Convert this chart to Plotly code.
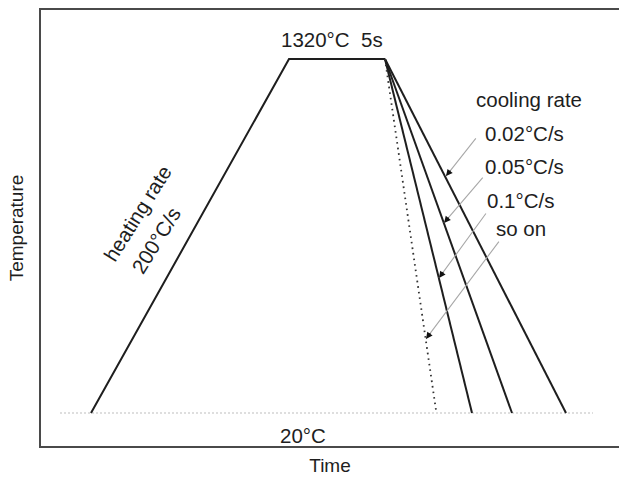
import plotly.graph_objects as go

# ---- data (schematic thermal cycle; time in arbitrary units, temperature in °C) ----
heat_time = [0, 198]
heat_temp = [20, 1320]
hold_time = [198, 294]
hold_temp = [1320, 1320]
cool_end_time = [381, 421, 475]        # solid cooling curves (0.1, 0.05, 0.02 °C/s)
cool_end_temp = [20, 20, 20]
dotted_end_time = 345                  # "so on" (dotted)
dotted_end_temp = 30
base_time = [-31, 502]
base_temp = [20, 20]

rate_labels = ["cooling rate", "0.02°C/s", "0.05°C/s", "0.1°C/s", "so on"]
rate_label_x = [438, 433, 433, 429, 430]
rate_label_y = [1173, 1048, 927, 802, 696]
# arrows: tail -> tip
arrow_tail_x = [386, 393, 396, 409]
arrow_tail_y = [1034, 890, 758, 655]
arrow_tip_x = [355, 353, 348, 335]
arrow_tip_y = [890, 718, 516, 292]

X_RANGE = [-50, 528]
Y_RANGE = [-101.2, 1500]

INK = "#1e1e1e"
FONT = "Liberation Sans, Arial, sans-serif"
TXT = 20.5
AX_TXT = 19

fig = go.Figure()

# baseline 20°C (light dotted)
fig.add_trace(go.Scatter(x=base_time, y=base_temp, mode="lines",
                         line=dict(color="#bdbdbd", width=1, dash="2px,2px"),
                         hoverinfo="skip", showlegend=False))
# heating + hold
fig.add_trace(go.Scatter(x=heat_time + hold_time[1:], y=heat_temp + hold_temp[1:], mode="lines",
                         line=dict(color=INK, width=2), hoverinfo="skip", showlegend=False))
# solid cooling curves
for tx, ty in zip(cool_end_time, cool_end_temp):
    fig.add_trace(go.Scatter(x=[hold_time[1], tx], y=[hold_temp[1], ty], mode="lines",
                             line=dict(color=INK, width=2), hoverinfo="skip", showlegend=False))
# dotted cooling curve
fig.add_trace(go.Scatter(x=[hold_time[1], dotted_end_time], y=[hold_temp[1], dotted_end_temp],
                         mode="lines", line=dict(color="#333", width=1.8, dash="1.6px,4px"),
                         hoverinfo="skip", showlegend=False))

annotations = []
# pixel scale (for short arrowhead stems)
px_x = (619 - 41) / (X_RANGE[1] - X_RANGE[0])
px_y = (446 - 10) / (Y_RANGE[1] - Y_RANGE[0])
for tx, ty, hx, hy in zip(arrow_tail_x, arrow_tail_y, arrow_tip_x, arrow_tip_y):
    annotations.append(dict(x=hx, y=hy, ax=tx, ay=ty, xref="x", yref="y", axref="x", ayref="y",
                            showarrow=True, arrowhead=0, arrowwidth=1.1, arrowcolor="#a8a8a8", text=""))
    dx = (tx - hx) * px_x
    dy = -(ty - hy) * px_y
    L = (dx ** 2 + dy ** 2) ** 0.5
    annotations.append(dict(x=hx, y=hy, ax=dx / L * 9, ay=dy / L * 9, xref="x", yref="y",
                            showarrow=True, arrowhead=2, arrowsize=1.2, arrowwidth=1.1,
                            arrowcolor="#111", text=""))

for t, x, y in zip(rate_labels, rate_label_x, rate_label_y):
    annotations.append(dict(x=x, y=y, xref="x", yref="y", text=t, showarrow=False,
                            font=dict(size=TXT, color=INK, family=FONT)))

annotations.append(dict(x=241, y=1393, xref="x", yref="y", text="1320°C  5s", showarrow=False,
                        font=dict(size=TXT, color=INK, family=FONT)))
annotations.append(dict(x=212, y=-62, xref="x", yref="y", text="20°C", showarrow=False,
                        font=dict(size=TXT, color=INK, family=FONT)))
annotations.append(dict(x=46, y=754, xref="x", yref="y", text="heating rate", showarrow=False,
                        textangle=-58, font=dict(size=TXT, color=INK, family=FONT)))
annotations.append(dict(x=65, y=652, xref="x", yref="y", text="200°C/s", showarrow=False,
                        textangle=-58, font=dict(size=TXT, color=INK, family=FONT)))

fig.update_layout(
    width=619, height=477,
    margin=dict(l=41, r=0, t=10, b=31),
    paper_bgcolor="white", plot_bgcolor="white",
    font=dict(family=FONT, size=AX_TXT, color=INK),
    annotations=annotations,
    xaxis=dict(range=X_RANGE, showgrid=False, zeroline=False, showticklabels=False, ticks="",
               showline=True, mirror=True, linecolor="#4a4a4a", linewidth=2,
               title=dict(text="Time", standoff=12, font=dict(size=AX_TXT, family=FONT, color=INK))),
    yaxis=dict(range=Y_RANGE, showgrid=False, zeroline=False, showticklabels=False, ticks="",
               showline=True, mirror=False, linecolor="#4a4a4a", linewidth=2,
               title=dict(text="Temperature", standoff=10, font=dict(size=AX_TXT, family=FONT, color=INK))),
)

fig.write_html("out.html")
